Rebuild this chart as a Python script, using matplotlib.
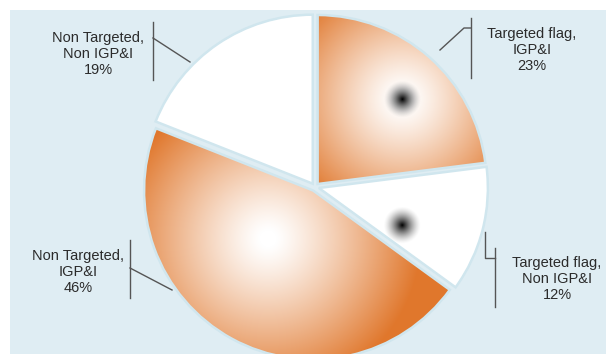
import numpy as np
import matplotlib.pyplot as plt
import matplotlib.colors as clrs
from matplotlib.patches import Rectangle

# data
categories = ["Targeted flag,\nIGP&I", "Targeted flag,\nNon IGP&I",
              "Non Targeted,\nIGP&I", "Non Targeted,\nNon IGP&I"]
shares = [23, 12, 46, 19]

# style per slice
slice_cols = ["#e0772c", "#ffffff", "#e0772c", "#ffffff"]
hl_ang = [45, -24, 227, 120]      # highlight direction (deg)
hl_frac = [0.71, 0.54, 0.39, 0.5]  # highlight distance / radius
hl_rad = [118, 60, 145, 60]
dots = [True, True, False, False]

W, H = 606, 354
fig = plt.figure(figsize=(6.06, 3.54), dpi=100)
fig.patch.set_facecolor("white")
ax = fig.add_axes([0, 0, 1, 1])
ax.add_patch(Rectangle((10, 0), W - 10, H - 10, facecolor="#dfedf3", edgecolor="none", zorder=0))

# explode is in data units (pixels here), not scaled by radius
wedges, _ = ax.pie(shares, startangle=90, counterclock=False, radius=169,
                   center=(315, H - 187), explode=[4] * 4,
                   wedgeprops=dict(facecolor="none", edgecolor="#d0e6ee", linewidth=1.8, zorder=5))

X, Y = np.meshgrid(np.arange(W) + 0.5, np.arange(H) + 0.5)
for i, w in enumerate(wedges):
    cx, cy = w.center
    a = np.deg2rad(hl_ang[i])
    hx = cx + hl_frac[i] * w.r * np.cos(a)
    hy = cy + hl_frac[i] * w.r * np.sin(a)
    d = np.hypot(X - hx, Y - hy)
    t = np.clip((d - 8) / hl_rad[i], 0, 1) ** 1.15
    col = np.array(clrs.to_rgb(slice_cols[i]))
    img = np.ones((H, W, 3)) * (1 - t[..., None]) + col * t[..., None]
    im = ax.imshow(img, extent=(0, W, 0, H), origin="lower", zorder=2, interpolation="bilinear")
    im.set_clip_path(w)
    if dots[i]:
        al = np.clip(1 - d / 19, 0, 1) ** 1.5
        rgba = np.zeros((H, W, 4))
        rgba[..., 3] = al
        im2 = ax.imshow(rgba, extent=(0, W, 0, H), origin="lower", zorder=3, interpolation="bilinear")
        im2.set_clip_path(w)

# labels with leader lines
lab_pos = [(532, 50), (557, 279), (78, 272), (98, 54)]
leaders = [
    [[(471, 18), (471, 78)], [(471, 28), (464, 28), (440, 50)]],
    [[(495, 248), (495, 307)], [(495, 258), (485, 258), (485, 232)]],
    [[(130, 240), (130, 298)], [(130, 268), (172, 290)]],
    [[(153, 22), (153, 80)], [(153, 38), (190, 62)]],
]
for i in range(len(shares)):
    x, y = lab_pos[i]
    ax.text(x, H - y, categories[i] + "\n" + str(shares[i]) + "%", ha="center", va="center",
            fontsize=10.5, family="Liberation Sans", color="#2b2b2b", linespacing=1.2, zorder=6)
    for seg in leaders[i]:
        pts = np.array(seg, dtype=float)
        ax.plot(pts[:, 0], H - pts[:, 1], color="#555555", lw=1, zorder=6)

ax.set_xlim(0, W)
ax.set_ylim(0, H)
ax.set_aspect("equal")
ax.axis("off")
plt.savefig("out.png", dpi=100)
